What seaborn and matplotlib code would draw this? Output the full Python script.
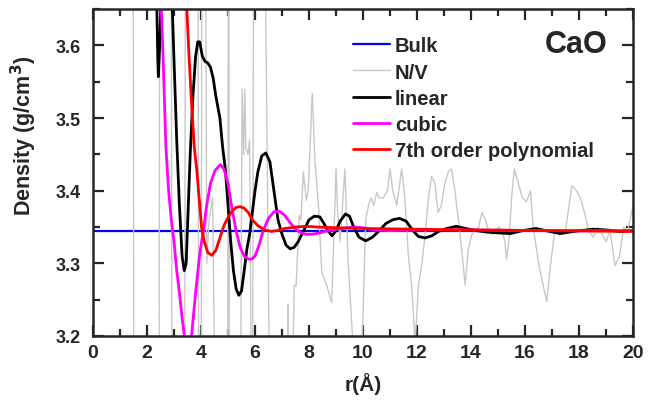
import numpy as np
import pandas as pd
import seaborn as sns
import matplotlib.pyplot as plt
from matplotlib.ticker import MultipleLocator

# bulk density
bulk_r = [0.0, 20.0]
bulk_d = [3.345, 3.345]

# N/V (noisy, runs off the axes at small r)
nv_r = [1.48, 1.52, 2.44, 2.48, 2.89, 2.93, 3.39, 3.43, 3.88, 3.92, 4.00, 4.04,
        4.15, 4.21, 4.30, 4.43, 4.58, 4.98, 5.02, 5.06, 5.44, 5.52, 5.58, 5.62,
        5.66, 5.74, 5.80, 5.90, 5.96, 6.30, 6.60, 7.17, 7.23, 7.28, 7.45, 7.52,
        7.64, 7.70, 7.79, 7.90, 7.97, 8.12, 8.22, 8.35, 8.47, 8.65, 8.84, 9.00,
        9.06, 9.15, 9.33, 9.45, 9.64, 9.96, 10.10, 10.20, 10.30, 10.40, 10.51,
        10.60, 10.75, 10.90, 11.00, 11.10, 11.25, 11.43, 11.55, 11.68, 11.80,
        11.93, 12.05, 12.18, 12.30, 12.42, 12.54, 12.66, 12.78, 12.90, 13.03,
        13.16, 13.28, 13.40, 13.53, 13.65, 13.78, 13.90, 14.03, 14.15, 14.28,
        14.40, 14.53, 14.65, 14.78, 14.90, 15.03, 15.15, 15.25, 15.32, 15.42,
        15.50, 15.60, 15.75, 15.90, 16.05, 16.20, 16.30, 16.50, 16.80, 16.95,
        17.10, 17.30, 17.50, 17.73, 17.90, 18.05, 18.20, 18.35, 18.52, 18.70,
        18.85, 19.00, 19.15, 19.33, 19.50, 19.65, 19.80, 20.00]
nv_d = [4.0, 2.9, 2.9, 4.0, 4.0, 2.9, 2.9, 4.0, 4.0, 2.9, 2.9, 4.0,
        4.0, 3.30, 3.36, 3.39, 2.9, 2.9, 4.0, 2.9, 2.9, 3.54, 3.45, 3.54,
        3.46, 3.45, 3.47, 2.9, 4.0, 4.0, 2.9, 2.9, 3.244, 2.9, 3.27, 3.269,
        3.366, 3.36, 3.426, 3.387, 3.40, 3.534, 3.44, 3.38, 3.288, 3.27, 3.246, 3.43,
        3.37, 3.33, 3.43, 3.30, 3.18, 3.18, 3.36, 3.38, 3.39, 3.38, 3.398,
        3.39, 3.39, 3.40, 3.43, 3.40, 3.38, 3.43, 3.39, 3.31, 3.27,
        3.19, 3.27, 3.30, 3.34, 3.39, 3.42, 3.41, 3.37, 3.38, 3.41,
        3.426, 3.43, 3.40, 3.36, 3.32, 3.27, 3.32, 3.34, 3.345, 3.35,
        3.37, 3.36, 3.345, 3.34, 3.345, 3.35, 3.345, 3.33, 3.306, 3.34,
        3.39, 3.43, 3.41, 3.39, 3.385, 3.40, 3.35, 3.30, 3.247, 3.30,
        3.345, 3.34, 3.345, 3.407, 3.40, 3.39, 3.37, 3.345, 3.336, 3.35,
        3.34, 3.33, 3.345, 3.297, 3.31, 3.35, 3.345, 3.38]

# linear
lin_r = [2.30, 2.36, 2.40, 2.42, 2.46, 2.52, 2.58, 2.75, 2.93, 3.00, 3.10, 3.20,
         3.30, 3.38, 3.45, 3.52, 3.60, 3.70, 3.80, 3.88, 3.95, 4.05, 4.15, 4.25,
         4.35, 4.45, 4.55, 4.70, 4.80, 4.90, 5.00, 5.10, 5.20, 5.30, 5.40, 5.50,
         5.60, 5.70, 5.80, 5.90, 6.00, 6.10, 6.25, 6.40, 6.55, 6.70, 6.85, 7.00,
         7.15, 7.30, 7.45, 7.60, 7.80, 8.00, 8.20, 8.40, 8.55, 8.70, 8.85, 9.00,
         9.15, 9.35, 9.50, 9.65, 9.85, 10.10, 10.35, 10.60, 10.85, 11.10, 11.35,
         11.60, 11.85, 12.05, 12.30, 12.55, 12.80, 13.10, 13.45, 13.80, 14.20,
         14.60, 15.00, 15.45, 15.90, 16.40, 16.90, 17.30, 17.80, 18.50, 19.00,
         19.50, 20.00]
lin_d = [3.70, 3.66, 3.58, 3.557, 3.59, 3.66, 3.72, 3.80, 3.66, 3.58, 3.47, 3.38,
         3.31, 3.29, 3.30, 3.37, 3.45, 3.53, 3.585, 3.605, 3.605, 3.585, 3.578, 3.576,
         3.57, 3.555, 3.53, 3.50, 3.46, 3.43, 3.38, 3.33, 3.29, 3.265, 3.256, 3.262,
         3.29, 3.32, 3.34, 3.37, 3.40, 3.425, 3.448, 3.452, 3.44, 3.40, 3.36, 3.34,
         3.325, 3.32, 3.322, 3.33, 3.345, 3.36, 3.365, 3.364, 3.355, 3.345, 3.338, 3.345,
         3.358, 3.368, 3.365, 3.35, 3.336, 3.331, 3.336, 3.345, 3.355, 3.36, 3.362,
         3.358, 3.345, 3.337, 3.335, 3.338, 3.344, 3.348, 3.351, 3.348, 3.345,
         3.343, 3.342, 3.341, 3.345, 3.348, 3.344, 3.341, 3.344, 3.347, 3.346,
         3.344, 3.345]

# cubic
cub_r = [2.52, 2.60, 2.70, 2.80, 2.90, 3.00, 3.10, 3.20, 3.30, 3.40, 3.53, 3.65,
         3.80, 3.96, 4.09, 4.21, 4.35, 4.52, 4.72, 4.85, 5.00, 5.15, 5.30, 5.45,
         5.60, 5.75, 5.88, 6.00, 6.15, 6.30, 6.50, 6.70, 6.90, 7.10, 7.30, 7.50,
         7.70, 7.90, 8.10, 8.40, 8.70, 9.00, 9.40, 9.70, 10.00, 10.40, 11.00,
         12.00, 14.00, 17.00, 20.00]
cub_d = [3.66, 3.58, 3.46, 3.40, 3.36, 3.33, 3.29, 3.26, 3.225, 3.195, 3.17, 3.20,
         3.26, 3.315, 3.345, 3.38, 3.41, 3.428, 3.436, 3.43, 3.41, 3.375, 3.345, 3.322,
         3.31, 3.306, 3.306, 3.31, 3.325, 3.345, 3.362, 3.371, 3.372, 3.366, 3.356, 3.347,
         3.342, 3.340, 3.340, 3.342, 3.345, 3.347, 3.349, 3.350, 3.349, 3.346, 3.345,
         3.346, 3.346, 3.345, 3.345]

# 7th order polynomial
pol_r = [3.45, 3.55, 3.65, 3.75, 3.84, 3.93, 4.02, 4.12, 4.25, 4.40, 4.55, 4.70,
         4.85, 5.00, 5.15, 5.30, 5.45, 5.60, 5.75, 5.90, 6.10, 6.35, 6.60, 6.80,
         7.10, 7.50, 7.90, 8.30, 9.00, 10.00, 12.00, 14.00, 17.00, 20.00]
pol_d = [3.67, 3.59, 3.52, 3.46, 3.43, 3.39, 3.35, 3.33, 3.315, 3.311, 3.318, 3.335,
         3.352, 3.363, 3.372, 3.377, 3.378, 3.376, 3.370, 3.36, 3.352, 3.346, 3.344, 3.345,
         3.348, 3.350, 3.351, 3.350, 3.349, 3.348, 3.347, 3.346, 3.345, 3.344]

sns.set_style("ticks")
plt.rcParams['font.family'] = ['Liberation Sans', 'DejaVu Sans']
plt.rcParams['font.weight'] = 'bold'
plt.rcParams['axes.labelweight'] = 'bold'

fig = plt.figure(figsize=(6.48, 4.06), dpi=100)
ax = fig.add_axes([0.1435, 0.170, 0.8335, 0.805])

sns.lineplot(x=bulk_r, y=bulk_d, ax=ax, color='#0000ff', lw=1.6, label='Bulk')
sns.lineplot(x=nv_r, y=nv_d, ax=ax, color='#c8c8c8', lw=1.0, label='N/V')
sns.lineplot(x=lin_r, y=lin_d, ax=ax, color='black', lw=2.0, label='linear')
sns.lineplot(x=cub_r, y=cub_d, ax=ax, color='#ff00ff', lw=2.0, label='cubic')
sns.lineplot(x=pol_r, y=pol_d, ax=ax, color='#ff0000', lw=2.0, label='7th order polynomial')

ax.set_xlim(0, 20)
ax.set_ylim(3.2, 3.65)
ax.xaxis.set_major_locator(MultipleLocator(2))
ax.xaxis.set_minor_locator(MultipleLocator(1))
ax.yaxis.set_major_locator(MultipleLocator(0.1))
ax.yaxis.set_minor_locator(MultipleLocator(0.05))
ax.tick_params(which='both', direction='in', top=True, right=True, width=1.6)
ax.tick_params(which='major', length=8)
ax.tick_params(which='minor', length=5)
ax.tick_params(axis='x', which='major', labelsize=14, pad=6)
ax.tick_params(axis='y', which='major', labelsize=13, pad=9)
for s in ax.spines.values():
    s.set_linewidth(1.8)

ax.set_xlabel('r(Å)', fontsize=15, labelpad=8)
ax.set_ylabel(r'Density (g/cm$^{\mathbf{3}}$)', fontsize=15.5)
ax.yaxis.set_label_coords(-0.100, 0.615)

ax.text(0.894, 0.893, 'CaO', transform=ax.transAxes, ha='center', va='center',
        fontsize=22, fontweight='bold')

ax.legend(loc='upper left', bbox_to_anchor=(0.481, 0.917), frameon=False,
          fontsize=14.5, handlelength=1.85, handletextpad=0.25, labelspacing=0.36,
          borderaxespad=0, borderpad=0)

plt.savefig('out.png', dpi=100)
